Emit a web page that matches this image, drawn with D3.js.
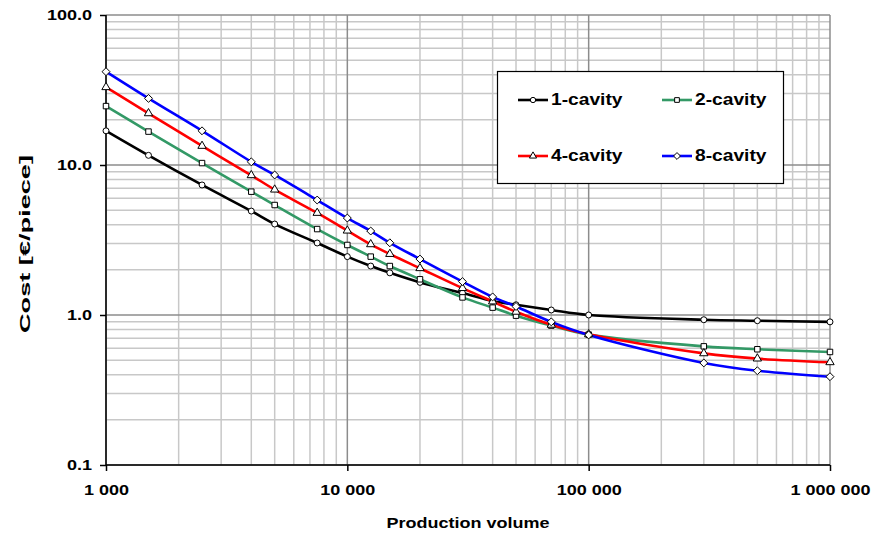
<!DOCTYPE html>
<html>
<head>
<meta charset="utf-8">
<script src="https://cdn.jsdelivr.net/npm/d3@7"></script>
<style>
  body { margin: 0; background: #fff; }
  svg { display: block; font-family: "Liberation Sans", Arial, sans-serif; }
</style>
</head>
<body>
<svg id="chart" width="877" height="540"></svg>
<script>
// Production volumes (pieces)
const volumes = [1000, 1500, 2500, 4000, 5000, 7500, 10000, 12500, 15000, 20000,
                 30000, 40000, 50000, 70000, 100000, 300000, 500000, 1000000];

// Cost per piece for each mould configuration
const cavity1 = [16.9, 11.6, 7.36, 4.93, 4.04, 3.02, 2.45, 2.12, 1.91, 1.65,
                 1.40, 1.24, 1.17, 1.08, 1.00, 0.93, 0.916, 0.90];
const cavity2 = [24.7, 16.7, 10.3, 6.64, 5.41, 3.74, 2.93, 2.45, 2.12, 1.73,
                 1.31, 1.12, 0.99, 0.85, 0.74, 0.618, 0.591, 0.567];
const cavity4 = [33.0, 22.1, 13.4, 8.54, 6.85, 4.79, 3.65, 2.96, 2.55, 2.05,
                 1.51, 1.23, 1.05, 0.86, 0.743, 0.555, 0.512, 0.484];
const cavity8 = [41.9, 27.8, 16.9, 10.5, 8.58, 5.84, 4.43, 3.63, 3.03, 2.36,
                 1.67, 1.32, 1.14, 0.90, 0.736, 0.479, 0.425, 0.388];

const seriesNames = ["1-cavity", "2-cavity", "4-cavity", "8-cavity"];
const seriesColors = ["#000000", "#339966", "#ff0000", "#0000ff"];
const seriesSymbols = [d3.symbolCircle, d3.symbolSquare, d3.symbolTriangle, d3.symbolDiamond2];
const seriesValues = [cavity1, cavity2, cavity4, cavity8];

const xTickValues = [1000, 10000, 100000, 1000000];
const xTickLabels = ["1 000", "10 000", "100 000", "1 000 000"];
const yTickValues = [0.1, 1, 10, 100];
const yTickLabels = ["0.1", "1.0", "10.0", "100.0"];

const svg = d3.select("#chart");
const plotLeft = 106, plotRight = 830, plotTop = 15, plotBottom = 465;
const widen = 1.2; // horizontal widening applied to the bold labels

// stretch a text element horizontally by the given factor
function stretch(sel, factor) {
  sel.each(function () {
    const len = this.getComputedTextLength();
    d3.select(this).attr("textLength", len * factor).attr("lengthAdjust", "spacingAndGlyphs");
  });
}

const x = d3.scaleLog().domain([1000, 1000000]).range([plotLeft, plotRight]);
const y = d3.scaleLog().domain([0.1, 100]).range([plotBottom, plotTop]);

// minor grid values (2..9 of each decade)
const minorX = [];
for (let d = 1000; d < 1000000; d *= 10) for (let k = 2; k <= 9; k++) minorX.push(d * k);
const minorY = [];
for (let d = 0.1; d < 99; d *= 10) for (let k = 2; k <= 9; k++) minorY.push(+(d * k).toPrecision(3));

const grid = svg.append("g");
grid.selectAll(".mx").data(minorX).join("line")
  .attr("x1", d => x(d)).attr("x2", d => x(d))
  .attr("y1", plotTop).attr("y2", plotBottom)
  .attr("stroke", "#c8c8c8").attr("stroke-width", 1.5);
grid.selectAll(".my").data(minorY).join("line")
  .attr("y1", d => y(d)).attr("y2", d => y(d))
  .attr("x1", plotLeft).attr("x2", plotRight)
  .attr("stroke", "#c8c8c8").attr("stroke-width", 1.5);
grid.selectAll(".Mx").data(xTickValues).join("line")
  .attr("x1", d => x(d)).attr("x2", d => x(d))
  .attr("y1", plotTop).attr("y2", plotBottom)
  .attr("stroke", "#8c8c8c").attr("stroke-width", 1.5);
grid.selectAll(".My").data(yTickValues).join("line")
  .attr("y1", d => y(d)).attr("y2", d => y(d))
  .attr("x1", plotLeft).attr("x2", plotRight)
  .attr("stroke", "#8c8c8c").attr("stroke-width", 1.5);

// axes
const xAxis = d3.axisBottom(x).tickValues(xTickValues)
  .tickFormat((d, i) => xTickLabels[i]).tickSize(6).tickPadding(13);
const yAxis = d3.axisLeft(y).tickValues(yTickValues)
  .tickFormat((d, i) => yTickLabels[i]).tickSize(6).tickPadding(8);

const gx = svg.append("g").attr("transform", `translate(0,${plotBottom})`).call(xAxis);
const gy = svg.append("g").attr("transform", `translate(${plotLeft},0)`).call(yAxis);
[gx, gy].forEach(g => {
  g.select(".domain").attr("stroke", "#000").attr("stroke-width", 1.5);
  g.selectAll(".tick line").attr("stroke", "#000").attr("stroke-width", 1.5);
  g.selectAll(".tick text").attr("fill", "#000")
    .style("font-size", "15px").style("font-weight", "bold")
    .style("font-family", "'Liberation Sans', Arial, sans-serif")
    .call(stretch, widen);
});
gx.select(".domain").attr("d", `M${plotLeft},0H${plotRight}`);
gy.select(".domain").attr("d", `M0,${plotBottom}V${plotTop}`);

// series lines and markers
const line = d3.line()
  .x((d, i) => x(volumes[i]))
  .y(d => y(d))
  .curve(d3.curveCatmullRom.alpha(0.5));

seriesValues.forEach((vals, s) => {
  svg.append("path").datum(vals)
    .attr("d", line)
    .attr("fill", "none")
    .attr("stroke", seriesColors[s])
    .attr("stroke-width", 2.6);
});
const markerSizes = [28, 30, 30, 40];
seriesValues.forEach((vals, s) => {
  const sym = d3.symbol().type(seriesSymbols[s]).size(markerSizes[s]);
  svg.append("g").selectAll("path").data(vals).join("path")
    .attr("d", sym)
    .attr("transform", (d, i) => `translate(${x(volumes[i])},${y(d)})`)
    .attr("fill", "#fff").attr("stroke", "#000").attr("stroke-width", 1);
});

// legend
const legend = svg.append("g");
legend.append("rect")
  .attr("x", 497.5).attr("y", 71.5).attr("width", 286).attr("height", 112)
  .attr("fill", "#fff").attr("stroke", "#000").attr("stroke-width", 1.2);
const legendPos = [[518, 100], [662, 100], [518, 156], [662, 156]];
seriesNames.forEach((name, s) => {
  const [lx, ly] = legendPos[s];
  legend.append("line").attr("x1", lx).attr("x2", lx + 30).attr("y1", ly).attr("y2", ly)
    .attr("stroke", seriesColors[s]).attr("stroke-width", 2.6);
  legend.append("path")
    .attr("d", d3.symbol().type(seriesSymbols[s]).size(s === 3 ? 30 : 22))
    .attr("transform", `translate(${lx + 15},${ly})`)
    .attr("fill", "#fff").attr("stroke", "#000").attr("stroke-width", 1);
  legend.append("text").attr("x", lx + 33).attr("y", ly + 4.5)
    .style("font-size", "16px").style("font-weight", "bold").text(name)
    .call(stretch, widen);
});

// axis titles
svg.append("text").attr("x", (plotLeft + plotRight) / 2).attr("y", 528)
  .attr("text-anchor", "middle").style("font-size", "15px").style("font-weight", "bold")
  .text("Production volume")
  .call(stretch, widen);
svg.append("text")
  .attr("transform", `translate(30,244) rotate(-90)`)
  .attr("text-anchor", "middle").style("font-size", "15px").style("font-weight", "bold")
  .attr("textLength", 178).attr("lengthAdjust", "spacingAndGlyphs")
  .text("Cost [€/piece]");
</script>
</body>
</html>
